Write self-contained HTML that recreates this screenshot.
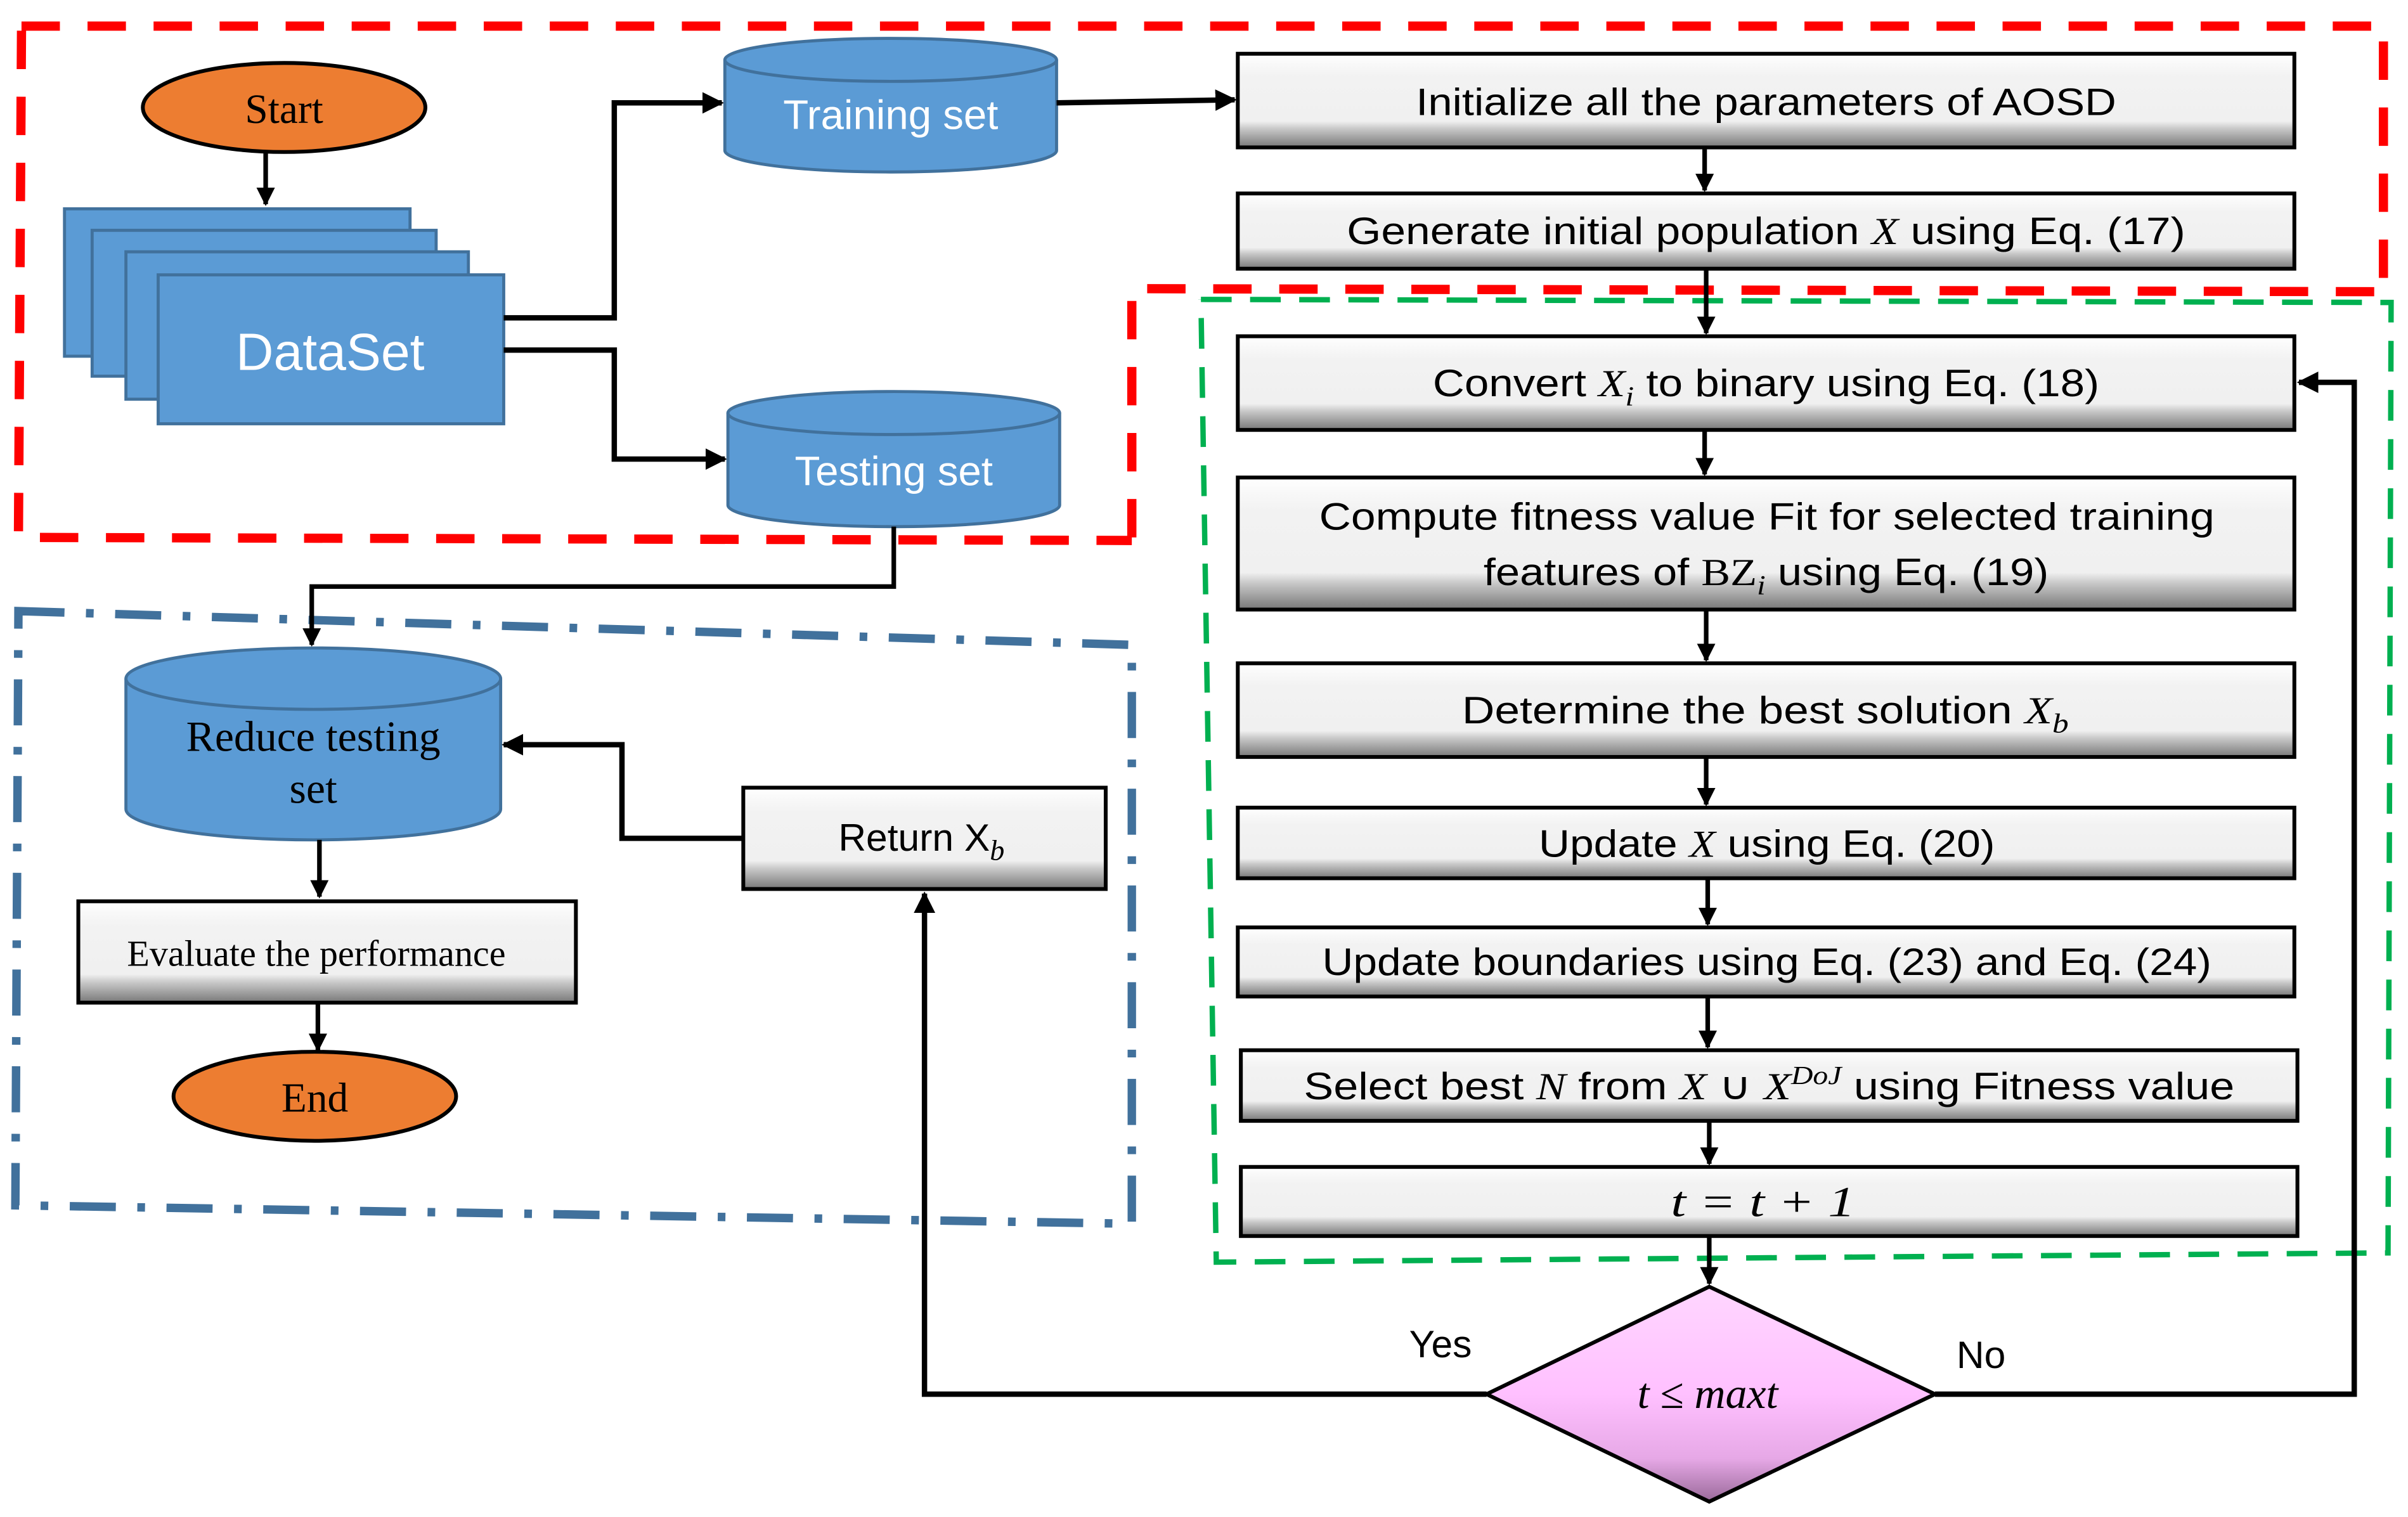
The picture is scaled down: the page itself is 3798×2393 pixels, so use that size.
<!DOCTYPE html>
<html><head><meta charset="utf-8"><style>
html,body{margin:0;padding:0;background:#fff;}
svg{display:block;}
.t{font-family:"Liberation Sans",sans-serif;fill:#000;}
.s{font-family:"Liberation Serif",serif;fill:#000;}
</style></head><body>
<svg width="3798" height="2393" viewBox="0 0 1568 988" preserveAspectRatio="none" xmlns="http://www.w3.org/2000/svg">
<defs>
<linearGradient id="bx" x1="0" y1="0" x2="0" y2="1">
<stop offset="0" stop-color="#ffffff"/><stop offset="0.12" stop-color="#f8f8f8"/><stop offset="0.25" stop-color="#f2f2f2"/><stop offset="0.72" stop-color="#f0f0f0"/><stop offset="0.8" stop-color="#c8c8c8"/><stop offset="1" stop-color="#777"/>
</linearGradient>
<linearGradient id="dm" x1="0" y1="0" x2="0" y2="1">
<stop offset="0" stop-color="#ffd6ff"/><stop offset="0.5" stop-color="#ffc0ff"/><stop offset="0.8" stop-color="#e6a8e6"/><stop offset="1" stop-color="#9a6a9a"/>
</linearGradient>
<marker id="ar" viewBox="0 0 10 10" refX="9" refY="5" markerWidth="4" markerHeight="4" orient="auto" markerUnits="strokeWidth"><path d="M0,0L10,5L0,10z" fill="#000"/></marker>
</defs>

<g fill="none" stroke="#ff0000" stroke-width="6" stroke-dasharray="25,18">
<path d="M14,17 L1552,17 L1552,188"/>
<path d="M14,20 L12,350 L737,352"/>
<path d="M737,350 L737,188 L1556,190"/>
</g>
<path d="M782,195 L1557,197 L1555,816 L792,822 L782,195" fill="none" stroke="#00b050" stroke-width="3.5" stroke-dasharray="20,12"/>
<path d="M12,398 L737,420 L737,797 L10,785 Z" fill="none" stroke="#41719c" stroke-width="5.5" stroke-dasharray="30,14,5,14"/>

<ellipse cx="185" cy="70" rx="92" ry="29" fill="#ed7d31" stroke="#000" stroke-width="2.5"/>
<text x="185" y="80" class="s" font-size="27" text-anchor="middle">Start</text>
<line x1="173" y1="99" x2="173" y2="133" stroke="#000" stroke-width="3" marker-end="url(#ar)"/>

<g fill="#5b9bd5" stroke="#41719c" stroke-width="2">
<rect x="42" y="136" width="225" height="96"/>
<rect x="60" y="150" width="224" height="95"/>
<rect x="82" y="164" width="223" height="96"/>
<rect x="103" y="179" width="225" height="97"/>
</g>
<text x="215" y="241" class="t" font-size="34" style="fill:#fff" text-anchor="middle">DataSet</text>

<g fill="#5b9bd5" stroke="#41719c" stroke-width="2">
<path d="M472,39 L472,98 A108,14 0 0 0 688,98 L688,39"/>
<ellipse cx="580" cy="39" rx="108" ry="14"/>
</g>
<text x="580" y="84" class="t" font-size="27" style="fill:#fff" text-anchor="middle">Training set</text>
<g fill="#5b9bd5" stroke="#41719c" stroke-width="2">
<path d="M474,269 L474,329 A108,14 0 0 0 690,329 L690,269"/>
<ellipse cx="582" cy="269" rx="108" ry="14"/>
</g>
<text x="582" y="316" class="t" font-size="27" style="fill:#fff" text-anchor="middle">Testing set</text>

<g fill="none" stroke="#000" stroke-width="3.5">
<path d="M328,207 L400,207 L400,67 L470,67" marker-end="url(#ar)"/>
<path d="M328,228 L400,228 L400,299 L472,299" marker-end="url(#ar)"/>
<path d="M688,67 L804,65" marker-end="url(#ar)"/>
<path d="M582,343 L582,382 L203,382 L203,420" stroke-width="3" marker-end="url(#ar)"/>
</g>

<g fill="#5b9bd5" stroke="#41719c" stroke-width="2">
<path d="M82,442 L82,527 A122,20 0 0 0 326,527 L326,442"/>
<ellipse cx="204" cy="442" rx="122" ry="20"/>
</g>
<text x="204" y="489" class="s" font-size="28" text-anchor="middle">Reduce testing</text>
<text x="204" y="523" class="s" font-size="28" text-anchor="middle">set</text>
<line x1="208" y1="547" x2="208" y2="584" stroke="#000" stroke-width="3" marker-end="url(#ar)"/>
<rect x="51" y="587" width="324" height="66" fill="url(#bx)" stroke="#000" stroke-width="2.5"/>
<text x="206" y="629" class="s" font-size="24" text-anchor="middle">Evaluate the performance</text>
<line x1="207" y1="653" x2="207" y2="684" stroke="#000" stroke-width="3" marker-end="url(#ar)"/>
<ellipse cx="205" cy="714" rx="92" ry="29" fill="#ed7d31" stroke="#000" stroke-width="2.5"/>
<text x="205" y="724" class="s" font-size="27" text-anchor="middle">End</text>

<rect x="484" y="513" width="236" height="66" fill="url(#bx)" stroke="#000" stroke-width="2.5"/>
<text x="600" y="554" class="t" font-size="25" text-anchor="middle">Return X<tspan class="s" font-style="italic" font-size="19" dy="6">b</tspan></text>
<path d="M484,546 L405,546 L405,485 L328,485" fill="none" stroke="#000" stroke-width="3.5" marker-end="url(#ar)"/>

<g fill="url(#bx)" stroke="#000" stroke-width="2.5">
<rect x="806" y="35" width="688" height="61"/>
<rect x="806" y="126" width="688" height="49"/>
<rect x="806" y="219" width="688" height="61"/>
<rect x="806" y="311" width="688" height="86"/>
<rect x="806" y="432" width="688" height="61"/>
<rect x="806" y="526" width="688" height="46"/>
<rect x="806" y="604" width="688" height="45"/>
<rect x="808" y="684" width="688" height="46"/>
<rect x="808" y="760" width="688" height="45"/>
</g>
<g font-size="25">
<text x="922" y="75" class="t" textLength="456" lengthAdjust="spacingAndGlyphs">Initialize all the parameters of AOSD</text>
<text x="877" y="159" class="t" textLength="546" lengthAdjust="spacingAndGlyphs">Generate initial population <tspan class="s" font-style="italic">X</tspan> using Eq. (17)</text>
<text x="933" y="258" class="t" textLength="434" lengthAdjust="spacingAndGlyphs">Convert <tspan class="s" font-style="italic">X</tspan><tspan class="s" font-style="italic" font-size="18" dy="6">i</tspan><tspan dy="-6"> to binary using Eq. (18)</tspan></text>
<text x="859" y="345" class="t" textLength="583" lengthAdjust="spacingAndGlyphs">Compute fitness value Fit for selected training</text>
<text x="966" y="381" class="t" textLength="368" lengthAdjust="spacingAndGlyphs">features of <tspan class="s">BZ</tspan><tspan class="s" font-style="italic" font-size="18" dy="6">i</tspan><tspan dy="-6"> using Eq. (19)</tspan></text>
<text x="952" y="471" class="t" textLength="395" lengthAdjust="spacingAndGlyphs">Determine the best solution <tspan class="s" font-style="italic">X</tspan><tspan class="s" font-style="italic" font-size="18" dy="6">b</tspan></text>
<text x="1002" y="558" class="t" textLength="297" lengthAdjust="spacingAndGlyphs">Update <tspan class="s" font-style="italic">X</tspan> using Eq. (20)</text>
<text x="861" y="635" class="t" textLength="579" lengthAdjust="spacingAndGlyphs">Update boundaries using Eq. (23) and Eq. (24)</text>
<text x="849" y="716" class="t" textLength="606" lengthAdjust="spacingAndGlyphs">Select best <tspan class="s" font-style="italic">N</tspan> from <tspan class="s" font-style="italic">X</tspan> ∪ <tspan class="s" font-style="italic">X</tspan><tspan class="s" font-style="italic" font-size="17" dy="-10">DoJ</tspan><tspan dy="10"> using Fitness value</tspan></text>
</g>
<text x="1088" y="792" class="s" font-size="28" font-style="italic" textLength="120" lengthAdjust="spacingAndGlyphs">t = t + 1</text>

<g stroke="#000" stroke-width="3" fill="none">
<line x1="1110" y1="96" x2="1110" y2="124" marker-end="url(#ar)"/>
<line x1="1111" y1="175" x2="1111" y2="217" marker-end="url(#ar)"/>
<line x1="1110" y1="280" x2="1110" y2="309" marker-end="url(#ar)"/>
<line x1="1111" y1="397" x2="1111" y2="430" marker-end="url(#ar)"/>
<line x1="1111" y1="493" x2="1111" y2="524" marker-end="url(#ar)"/>
<line x1="1112" y1="572" x2="1112" y2="602" marker-end="url(#ar)"/>
<line x1="1112" y1="649" x2="1112" y2="682" marker-end="url(#ar)"/>
<line x1="1113" y1="730" x2="1113" y2="758" marker-end="url(#ar)"/>
<line x1="1113" y1="805" x2="1113" y2="836" marker-end="url(#ar)"/>
<path d="M968,908 L602,908 L602,582" stroke-width="3.5" marker-end="url(#ar)"/>
<path d="M1260,908 L1533,908 L1533,249 L1497,249" stroke-width="3.5" marker-end="url(#ar)"/>
</g>

<path d="M1113,838 L1260,908 L1113,978 L968,908 Z" fill="url(#dm)" stroke="#000" stroke-width="2.5"/>
<text x="1112" y="917" class="s" font-size="28" font-style="italic" text-anchor="middle">t ≤ maxt</text>
<text x="938" y="884" class="t" font-size="25" text-anchor="middle">Yes</text>
<text x="1290" y="891" class="t" font-size="25" text-anchor="middle">No</text>
</svg>
</body></html>
